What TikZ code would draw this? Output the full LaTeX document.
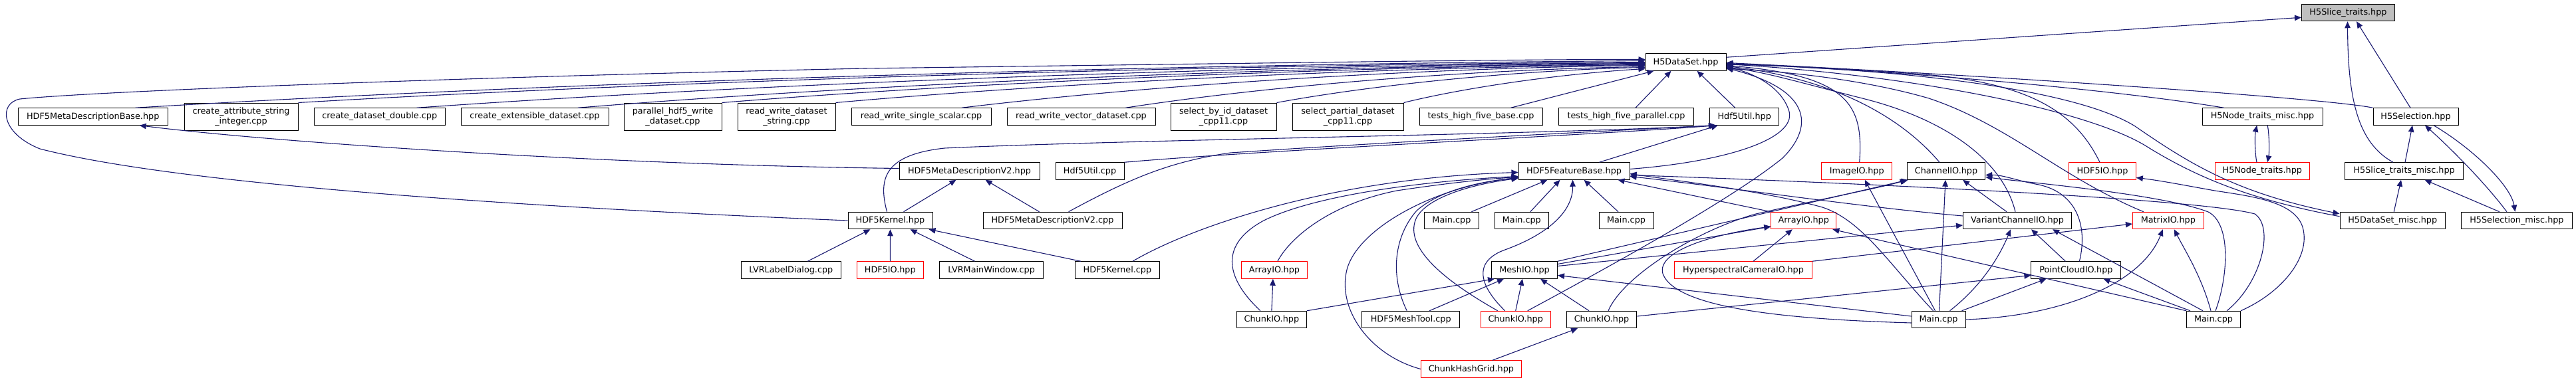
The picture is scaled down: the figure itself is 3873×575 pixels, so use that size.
\documentclass[tikz,border=0pt]{standalone}
\usepackage{fontspec}
\setmainfont{DejaVu Sans}
\usetikzlibrary{arrows.meta}
\definecolor{edgec}{HTML}{191970}
\definecolor{rootfill}{HTML}{BFBFBF}
\newcommand\dxf{\fontsize{12.8}{15}\selectfont}
\begin{document}
\begin{tikzpicture}[x=1pt,y=-1pt,
  nd/.style={draw=black, line width=1pt, rectangle, minimum height=25.5pt, inner sep=0pt, font=\dxf, align=center, fill=white},
  nd2/.style={nd, minimum height=41pt},
  rnd/.style={nd, draw=red},
  e/.style={draw=edgec, line width=1.1pt, -{Triangle[length=10pt,width=8.5pt]}},
]
\useasboundingbox (0,0) rectangle (3873,575);
\fill[white] (0,0) rectangle (3873,575);
% row 0
\node[nd, fill=rootfill, minimum width=140pt] (slice) at (3530.5,19) {H5Slice\_traits.hpp};
% row 1
\node[nd, minimum width=121pt] (ds) at (2534.5,93.5) {H5DataSet.hpp};
% row 2
\node[nd, minimum width=225.5pt] (mdb) at (139.75,175.5) {HDF5MetaDescriptionBase.hpp};
\node[nd2, minimum width=171pt] (cas) at (362.5,175.5) {create\_attribute\_string\\\_integer.cpp};
\node[nd, minimum width=197.5pt] (cdd) at (570.75,175.5) {create\_dataset\_double.cpp};
\node[nd, minimum width=222pt] (ced) at (804,175.5) {create\_extensible\_dataset.cpp};
\node[nd2, minimum width=147pt] (phw) at (1011.5,175.5) {parallel\_hdf5\_write\\\_dataset.cpp};
\node[nd2, minimum width=147pt] (rwds) at (1182.5,175.5) {read\_write\_dataset\\\_string.cpp};
\node[nd, minimum width=210pt] (rwss) at (1385,175.5) {read\_write\_single\_scalar.cpp};
\node[nd, minimum width=223pt] (rwvd) at (1625.5,175.5) {read\_write\_vector\_dataset.cpp};
\node[nd2, minimum width=159pt] (sbid) at (1839.5,175.5) {select\_by\_id\_dataset\\\_cpp11.cpp};
\node[nd2, minimum width=167pt] (spd) at (2026.5,175.5) {select\_partial\_dataset\\\_cpp11.cpp};
\node[nd, minimum width=185pt] (thfb) at (2226.5,175.5) {tests\_high\_five\_base.cpp};
\node[nd, minimum width=203pt] (thfp) at (2445,175.5) {tests\_high\_five\_parallel.cpp};
\node[nd, minimum width=104pt] (h5util) at (2622.7,175.5) {Hdf5Util.hpp};
\node[nd, minimum width=181pt] (ntm) at (3401.5,175.5) {H5Node\_traits\_misc.hpp};
\node[nd, minimum width=128pt] (sel) at (3632,175.5) {H5Selection.hpp};
% row 3
\node[nd, minimum width=211pt] (mdv2h) at (1457.5,257.5) {HDF5MetaDescriptionV2.hpp};
\node[nd, minimum width=103pt] (h5utilcpp) at (1638.5,257.5) {Hdf5Util.cpp};
\node[nd, minimum width=167pt] (fb) at (2366.5,257.5) {HDF5FeatureBase.hpp};
\node[rnd, minimum width=105.7pt] (imageio) at (2791.7,257.5) {ImageIO.hpp};
\node[nd, minimum width=117.5pt] (chio) at (2926,257.5) {ChannelIO.hpp};
\node[rnd, minimum width=100.6pt] (hdf5ioa) at (3161,257.5) {HDF5IO.hpp};
\node[rnd, minimum width=142.5pt] (nt) at (3401.3,257.5) {H5Node\_traits.hpp};
\node[nd, minimum width=178.6pt] (stm) at (3614.6,257.5) {H5Slice\_traits\_misc.hpp};
% row 4
\node[nd, minimum width=127pt] (kh) at (1338.5,332) {HDF5Kernel.hpp};
\node[nd, minimum width=209pt] (mdv2c) at (1582.5,332) {HDF5MetaDescriptionV2.cpp};
\node[nd, minimum width=81.6pt] (mainA) at (2182.4,332) {Main.cpp};
\node[nd, minimum width=81.6pt] (mainB) at (2287.8,332) {Main.cpp};
\node[nd, minimum width=82pt] (mainC) at (2445,332) {Main.cpp};
\node[rnd, minimum width=98pt] (arrayioa) at (2711.8,332) {ArrayIO.hpp};
\node[nd, minimum width=163pt] (vcio) at (3033,332) {VariantChannelIO.hpp};
\node[rnd, minimum width=106.8pt] (matrixio) at (3259.8,332) {MatrixIO.hpp};
\node[nd, minimum width=158.4pt] (dsm) at (3597.2,332) {H5DataSet\_misc.hpp};
\node[nd, minimum width=167pt] (selm) at (3783.9,332) {H5Selection\_misc.hpp};
% row 5
\node[nd, minimum width=150.6pt] (lvrld) at (1189.3,406.5) {LVRLabelDialog.cpp};
\node[rnd, minimum width=100.6pt] (hdf5iob) at (1338.3,406.5) {HDF5IO.hpp};
\node[nd, minimum width=156pt] (lvrmw) at (1490.6,406.5) {LVRMainWindow.cpp};
\node[nd, minimum width=126.3pt] (kcpp) at (1679.9,406.5) {HDF5Kernel.cpp};
\node[rnd, minimum width=98.8pt] (arrayiob) at (1915.9,406.5) {ArrayIO.hpp};
\node[nd, minimum width=99pt] (meshio) at (2292,406.5) {MeshIO.hpp};
\node[rnd, minimum width=207pt] (hcio) at (2621,406.5) {HyperspectralCameraIO.hpp};
\node[nd, minimum width=135pt] (pcio) at (3121.4,406.5) {PointCloudIO.hpp};
% row 6
\node[nd, minimum width=105.4pt] (chunka) at (1911.9,481) {ChunkIO.hpp};
\node[nd, minimum width=146.7pt] (hmt) at (2121.2,481) {HDF5MeshTool.cpp};
\node[rnd, minimum width=105.3pt] (chunkb) at (2278.7,481) {ChunkIO.hpp};
\node[nd, minimum width=105.7pt] (chunkc) at (2408,481) {ChunkIO.hpp};
\node[nd, minimum width=81pt] (mainD) at (2914.5,481) {Main.cpp};
\node[nd, minimum width=81pt] (mainE) at (3328,481) {Main.cpp};
% row 7
\node[rnd, minimum width=151pt] (chg) at (2211.9,555.5) {ChunkHashGrid.hpp};

% ---- edges into H5Slice_traits
\draw[e] ([yshift=-6pt]ds.north east) -- ([yshift=6pt]slice.south west);
\draw[e] ([xshift=-8pt]sel.north) -- ([xshift=12.5pt]slice.south);
\draw[e] ([xshift=-16.6pt]stm.north) .. controls (3545,215) and (3530,150) .. ([xshift=-1pt]slice.south);

% ---- row 2 into H5DataSet
\draw[e] ([xshift=64pt]mdb.north) .. controls (885,121) and (1793,96) .. ([yshift=2pt]ds.west);
\draw[e] (cas.north east) .. controls (1056,119) and (1866,97) .. (ds.west);
\draw[e] ([xshift=56pt]cdd.north) .. controls (1181,123) and (1920,98) .. ([yshift=-1pt]ds.west);
\draw[e] ([xshift=65pt]ced.north) .. controls (1350,123) and (1992,99) .. ([yshift=-2pt]ds.west);
\draw[e] (phw.north east) .. controls (1502,121) and (2057,100) .. ([yshift=-3pt]ds.west);
\draw[e] (rwds.north east) .. controls (1621,122) and (2109,101) .. ([yshift=-4pt]ds.west);
\draw[e] ([xshift=61pt]rwss.north) .. controls (1754,125) and (2166,102) .. ([yshift=-5pt]ds.west);
\draw[e] ([xshift=67pt]rwvd.north) .. controls (1927,126) and (2239,104) .. ([yshift=-7pt]ds.west);
\draw[e] (sbid.north east) .. controls (2086,124) and (2308,105) .. ([yshift=-8pt]ds.west);
\draw[e] (spd.north east) .. controls (2219,128) and (2365,110) .. ([yshift=-10pt]ds.west);
\draw[e] ([xshift=45pt]thfb.north) -- ([xshift=-48pt]ds.south);
\draw[e] ([xshift=14pt]thfp.north) -- ([xshift=-22pt]ds.south);
\draw[e] ([xshift=-14pt]h5util.north) -- ([xshift=17pt]ds.south);
% kernel loop
\draw[e] (kh.west) .. controls (700,308) and (250,273) .. (60,224) .. controls (0,200) and (-2,155) .. (30,149) .. controls (150,137) and (700,116) .. (1300,103) .. controls (1900,95) and (2300,89) .. ([yshift=4pt]ds.west);

% ---- meta description / util
\draw[e] ([yshift=4pt]mdv2h.west) .. controls (900,248) and (400,213) .. ([xshift=70pt]mdb.south);
\draw[e] ([xshift=20pt]kh.north) -- ([xshift=-20pt]mdv2h.south);
\draw[e] ([xshift=-20pt]mdv2c.north) -- ([xshift=24pt]mdv2h.south);
\draw[e] ([xshift=-5pt]kh.north) .. controls (1320,268) and (1330,233) .. (1420,223) .. controls (1700,210) and (2300,203) .. ([xshift=-44pt]h5util.south);
\draw[e] (h5utilcpp.north east) .. controls (1900,226) and (2400,203) .. ([xshift=-42pt]h5util.south);
\draw[e] ([xshift=24pt]mdv2c.north) .. controls (1700,268) and (1760,243) .. (1850,230) .. controls (2100,213) and (2400,198) .. ([xshift=-43pt]h5util.south);
\draw[e] ([xshift=38pt]fb.north) -- ([xshift=-40pt]h5util.south);

% ---- right side into H5DataSet
\draw[e] ([yshift=3pt]fb.east) .. controls (2600,243) and (2700,208) .. (2690,168) .. controls (2680,133) and (2640,111) .. ([yshift=-7pt]ds.east);
\draw[e] ([xshift=18pt]chunkb.north) .. controls (2400,412) and (2600,303) .. (2680,238) .. controls (2730,188) and (2720,134) .. ([yshift=-9pt]ds.east);
\draw[e] ([xshift=4pt]imageio.north) .. controls (2802,158) and (2780,114) .. ([yshift=-5pt]ds.east);
\draw[e] ([xshift=-10pt]chio.north) .. controls (2860,178) and (2760,119) .. ([yshift=-6pt]ds.east);
\draw[e] ([xshift=-3pt]vcio.north) .. controls (3010,238) and (2920,178) .. (2800,148) .. controls (2720,128) and (2650,107) .. ([yshift=-8pt]ds.east);
\draw[e] ([xshift=-4pt]hdf5ioa.north) .. controls (3120,168) and (3050,123) .. (2880,111) .. controls (2750,102) and (2650,97) .. ([yshift=-4pt]ds.east);
\draw[e] ([xshift=-37pt]matrixio.north) .. controls (3100,268) and (3020,188) .. (2900,148) .. controls (2800,119) and (2680,107) .. ([yshift=-10pt]ds.east);
\draw[e] ([xshift=-58pt]ntm.north) .. controls (3200,138) and (2900,109) .. ([yshift=-2pt]ds.east);
\draw[e] (sel.north west) .. controls (3500,148) and (3000,114) .. ([yshift=-1pt]ds.east);
\draw[e] ([yshift=-3pt]ds.east) .. controls (2900,105) and (3130,140) .. (3210,190) .. controls (3290,245) and (3360,290) .. ([yshift=-3pt]dsm.north west);
\draw[e] ([yshift=-7pt]dsm.north west) .. controls (3380,300) and (3300,265) .. (3230,222) .. controls (3150,170) and (2900,115) .. ([yshift=-3pt]ds.east);

% ---- right cluster of HighFive
\draw[e] ([xshift=27pt]sel.south) .. controls (3720,225) and (3775,280) .. ([xshift=-2.4pt]selm.north);
\draw[e] ([xshift=-15pt]selm.north) .. controls (3740,280) and (3690,228) .. ([xshift=14pt]sel.south);
\draw[e] ([xshift=1.4pt]stm.north) -- ([xshift=-5pt]sel.south);
\draw[e] ([xshift=2pt]dsm.north) -- ([xshift=-4.6pt]stm.south);
\draw[e] ([xshift=-26pt]selm.north) -- ([xshift=31pt]stm.south);
\draw[e] ([xshift=-8.3pt]nt.north) .. controls (3390,230) and (3390,203) .. ([xshift=-8.3pt]ntm.south);
\draw[e] ([xshift=7.7pt]ntm.south) .. controls (3412,203) and (3412,230) .. ([xshift=7.7pt]nt.north);

% ---- HDF5Kernel
\draw[e] ([xshift=25pt]lvrld.north) -- ([xshift=-30pt]kh.south);
\draw[e] (hdf5iob.north) -- (kh.south);
\draw[e] ([xshift=-25pt]lvrmw.north) -- ([xshift=30pt]kh.south);
\draw[e] ([xshift=-55pt]kcpp.north) -- ([xshift=-6pt]kh.south east);

% ---- into HDF5FeatureBase
\draw[e] ([xshift=23pt]kcpp.north) .. controls (1790,342) and (2000,268) .. ([yshift=-2pt]fb.west);
\draw[e] ([xshift=-17pt]chunka.north) .. controls (1840,416) and (1835,367) .. (1900,332) .. controls (1980,292) and (2150,272) .. ([yshift=-8pt]fb.west);
\draw[e] ([xshift=5pt]arrayiob.north) .. controls (1940,357) and (2000,307) .. (2100,287) .. controls (2180,275) and (2240,269) .. ([yshift=-9pt]fb.west);
\draw[e] (chg.west) .. controls (2060,535) and (2010,466) .. (2025,406) .. controls (2040,347) and (2150,282) .. ([yshift=-10pt]fb.west);
\draw[e] ([xshift=-6pt]hmt.north) .. controls (2090,416) and (2095,357) .. (2130,317) .. controls (2170,282) and (2240,272) .. ([yshift=-10pt]fb.west);
\draw[e] ([xshift=-27pt]chunkb.north) .. controls (2160,416) and (2110,367) .. (2130,327) .. controls (2150,292) and (2230,275) .. ([yshift=-11pt]fb.west);
\draw[e] ([xshift=-16pt]chunkb.north) .. controls (2230,436) and (2210,397) .. (2260,377) .. controls (2330,352) and (2365,317) .. ([xshift=-2pt]fb.south);
\draw[e] ([xshift=30pt]mainA.north) -- ([xshift=-40pt]fb.south);
\draw[e] ([xshift=13pt]mainB.north) -- ([xshift=-21pt]fb.south);
\draw[e] ([xshift=-12pt]mainC.north) -- ([xshift=15pt]fb.south);
\draw[e] (arrayioa.north west) -- ([xshift=66pt]fb.south);
\draw[e] ([yshift=7pt]vcio.west) .. controls (2800,312) and (2600,282) .. ([yshift=-8pt]fb.east);

% ---- lower cluster
\draw[e] (chunka.north) -- ([xshift=-2pt]arrayiob.south);
\draw[e] (chunka.north east) -- ([xshift=5pt]meshio.south west);
\draw[e] ([xshift=28pt]hmt.north) -- ([xshift=-31pt]meshio.south);
\draw[e] (chunkb.north) -- ([xshift=-3pt]meshio.south);
\draw[e] ([xshift=-19pt]chunkc.north) -- ([xshift=24pt]meshio.south);
\draw[e] ([xshift=32pt]chg.north) -- ([xshift=-36pt]chunkc.south);
\draw[e] ([yshift=5pt]chunkc.east) -- ([yshift=-8pt]pcio.west);
\draw[e] ([xshift=10pt]chunkc.north) .. controls (2440,416) and (2550,347) .. (2640,322) .. controls (2750,297) and (2830,282) .. (chio.south west);
\draw[e] ([yshift=9pt]meshio.east) -- ([yshift=-9pt]arrayioa.west);
\draw[e] ([yshift=6pt]meshio.east) -- ([yshift=-7pt]vcio.west);
\draw[e] (meshio.north east) -- ([xshift=2pt]chio.south west);
\draw[e] ([xshift=15pt]hcio.north) -- ([xshift=-17pt]arrayioa.south);
\draw[e] (hcio.north east) -- ([yshift=-5pt]matrixio.west);
\draw[e] ([xshift=-16pt]pcio.north) -- ([xshift=21pt]vcio.south);
\draw[e] ([xshift=5pt]pcio.north) .. controls (3140,337) and (3120,287) .. (3060,277) .. controls (3030,271) and (3010,263) .. ([yshift=-6pt]chio.east);
\draw[e] ([xshift=-16pt]vcio.north) -- ([xshift=25pt]chio.south);

% ---- Main.cpp (D)
\draw[e] ([xshift=-5pt]mainD.north) -- ([xshift=12pt]imageio.south);
\draw[e] ([xshift=1pt]mainD.north) -- ([xshift=-1pt]chio.south);
\draw[e] ([xshift=17pt]mainD.north) .. controls (2985,426) and (3010,377) .. ([xshift=-10pt]vcio.south);
\draw[e] ([xshift=35pt]mainD.north) -- ([xshift=-45pt]pcio.south);
\draw[e] (mainD.east) .. controls (3100,476) and (3220,427) .. ([xshift=-8pt]matrixio.south);
\draw[e] ([xshift=-8pt]mainD.north) .. controls (2840,397) and (2800,332) .. (2740,312) .. controls (2650,287) and (2520,272) .. ([yshift=-4pt]fb.east);
\draw[e] ([yshift=5pt]mainD.west) -- ([yshift=-8pt]meshio.east);
\draw[e] ([yshift=-5pt]mainD.west) .. controls (2700,481) and (2520,466) .. (2500,412) .. controls (2490,377) and (2580,352) .. ([yshift=-9pt]arrayioa.west);

% ---- Main.cpp (E)
\draw[e] (mainE.north west) -- ([xshift=-6pt]arrayioa.south east);
\draw[e] ([xshift=-16pt]mainE.north) -- ([xshift=53pt]vcio.south);
\draw[e] ([xshift=-35pt]mainE.north) -- ([xshift=41pt]pcio.south);
\draw[e] ([xshift=-4pt]mainE.north) .. controls (3310,416) and (3285,377) .. ([xshift=9pt]matrixio.south);
\draw[e] ([xshift=3pt]mainE.north) .. controls (3350,416) and (3355,337) .. (3320,319) .. controls (3250,292) and (3050,275) .. ([yshift=-9pt]chio.east);
\draw[e] ([xshift=20pt]mainE.north) .. controls (3400,426) and (3420,342) .. (3390,322) .. controls (3300,297) and (2700,272) .. ([yshift=-6pt]fb.east);
\draw[e] (mainE.north east) .. controls (3430,441) and (3475,387) .. (3462,342) .. controls (3450,302) and (3380,295) .. (3330,287) .. controls (3290,280) and (3250,272) .. ([yshift=-10pt]hdf5ioa.east);
\end{tikzpicture}
\end{document}
